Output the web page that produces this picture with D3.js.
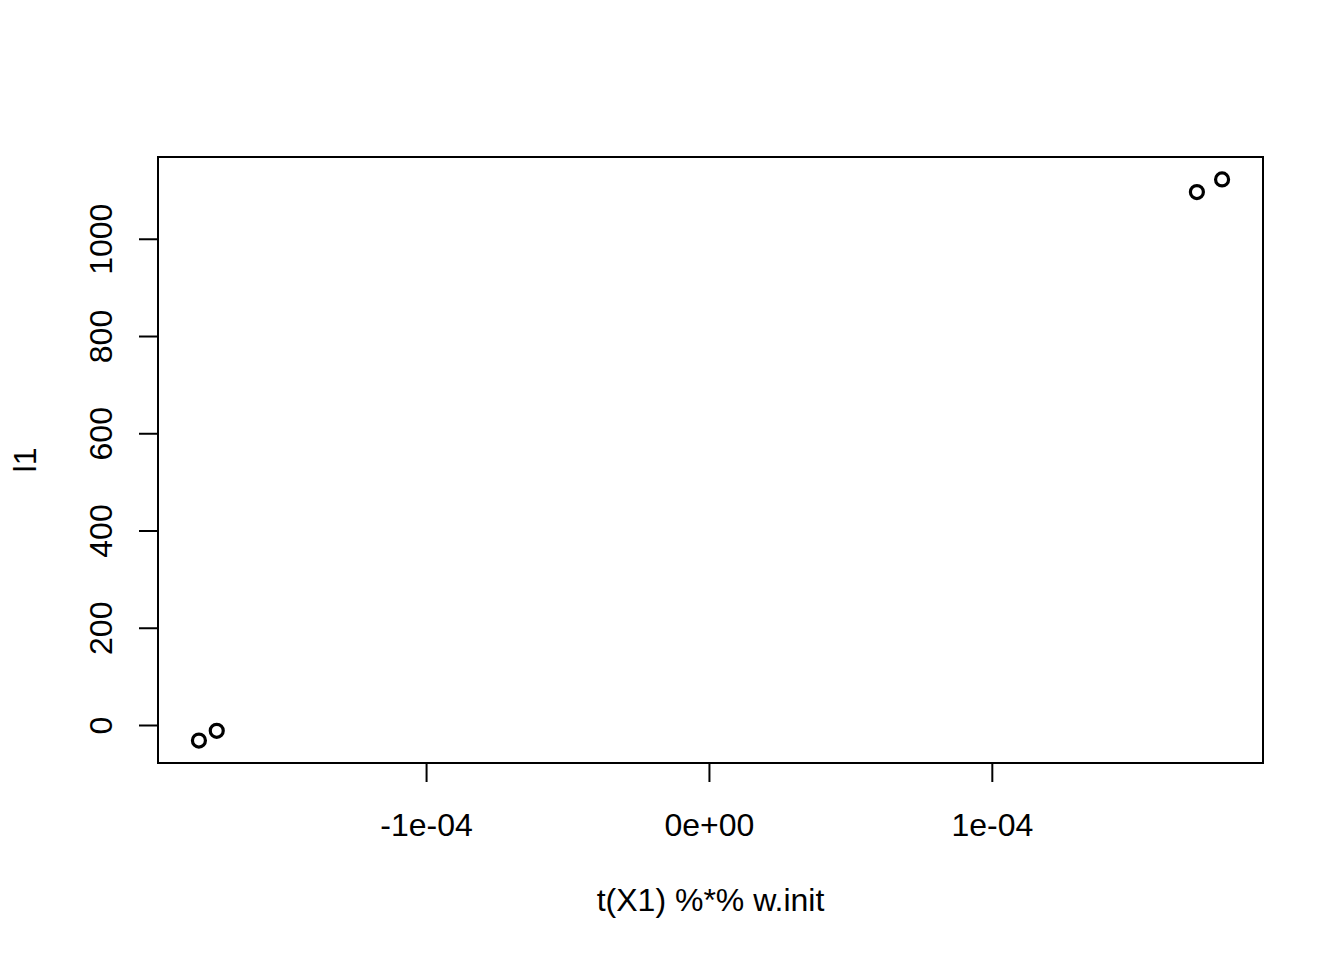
<!DOCTYPE html>
<html><head><meta charset="utf-8">
<script src="https://cdn.jsdelivr.net/npm/d3@7"></script>
<style>body{margin:0;background:#fff}</style>
</head><body>
<script>
const xValues = [-1.803e-4, -1.74e-4, 1.725e-4, 1.814e-4];
const yValues = [-32, -12, 1096, 1122];
const xTicks = [-1e-4, 0, 1e-4];
const xTickLabels = ["-1e-04", "0e+00", "1e-04"];
const yTicks = [0, 200, 400, 600, 800, 1000];
const xTitle = "t(X1) %*% w.init";
const yTitle = "l1";

const W = 1344, H = 960;
const L = 158, R = 1263, T = 157, B = 763;
const font = "Liberation Sans, Arial, sans-serif";

const svg = d3.select("body").append("svg").attr("width", W).attr("height", H);

function ext(v){const lo=d3.min(v),hi=d3.max(v),d=(hi-lo)*0.04;return [lo-d,hi+d];}
const x = d3.scaleLinear().domain(ext(xValues)).range([L, R]);
const y = d3.scaleLinear().domain(ext(yValues)).range([B, T]);

svg.append("rect").attr("x", L).attr("y", T).attr("width", R-L).attr("height", B-T)
  .attr("fill","none").attr("stroke","#000").attr("stroke-width",2);

const xa = svg.append("g").attr("transform", `translate(0,${B})`)
  .call(d3.axisBottom(x).tickValues(xTicks).tickSize(19).tickPadding(0).tickFormat((d,i)=>xTickLabels[i]));
xa.select(".domain").remove();
xa.selectAll("line").attr("stroke","#000").attr("stroke-width",2);
xa.selectAll("text").attr("dy",null).attr("y",73).attr("font-family",font).attr("font-size",32).attr("fill","#000");

const ya = svg.append("g").attr("transform", `translate(${L},0)`)
  .call(d3.axisLeft(y).tickValues(yTicks).tickSize(19).tickPadding(0).tickFormat(d3.format("d")));
ya.select(".domain").remove();
ya.selectAll("line").attr("stroke","#000").attr("stroke-width",2);
ya.selectAll("text").attr("x",null).attr("dy",null).attr("text-anchor","middle")
  .attr("transform","translate(-46,0) rotate(-90)")
  .attr("font-family",font).attr("font-size",32).attr("fill","#000");

svg.append("text").attr("x",(L+R)/2).attr("y",911).attr("text-anchor","middle")
  .attr("font-family",font).attr("font-size",32).text(xTitle);
svg.append("text").attr("transform",`translate(36,${(T+B)/2}) rotate(-90)`).attr("text-anchor","middle")
  .attr("font-family",font).attr("font-size",32).text(yTitle);

svg.selectAll("circle.pt").data(xValues).enter().append("circle").attr("class","pt")
  .attr("cx",(d)=>x(d)).attr("cy",(d,i)=>y(yValues[i])).attr("r",6.5)
  .attr("fill","none").attr("stroke","#000").attr("stroke-width",3.2);
</script>
</body></html>
